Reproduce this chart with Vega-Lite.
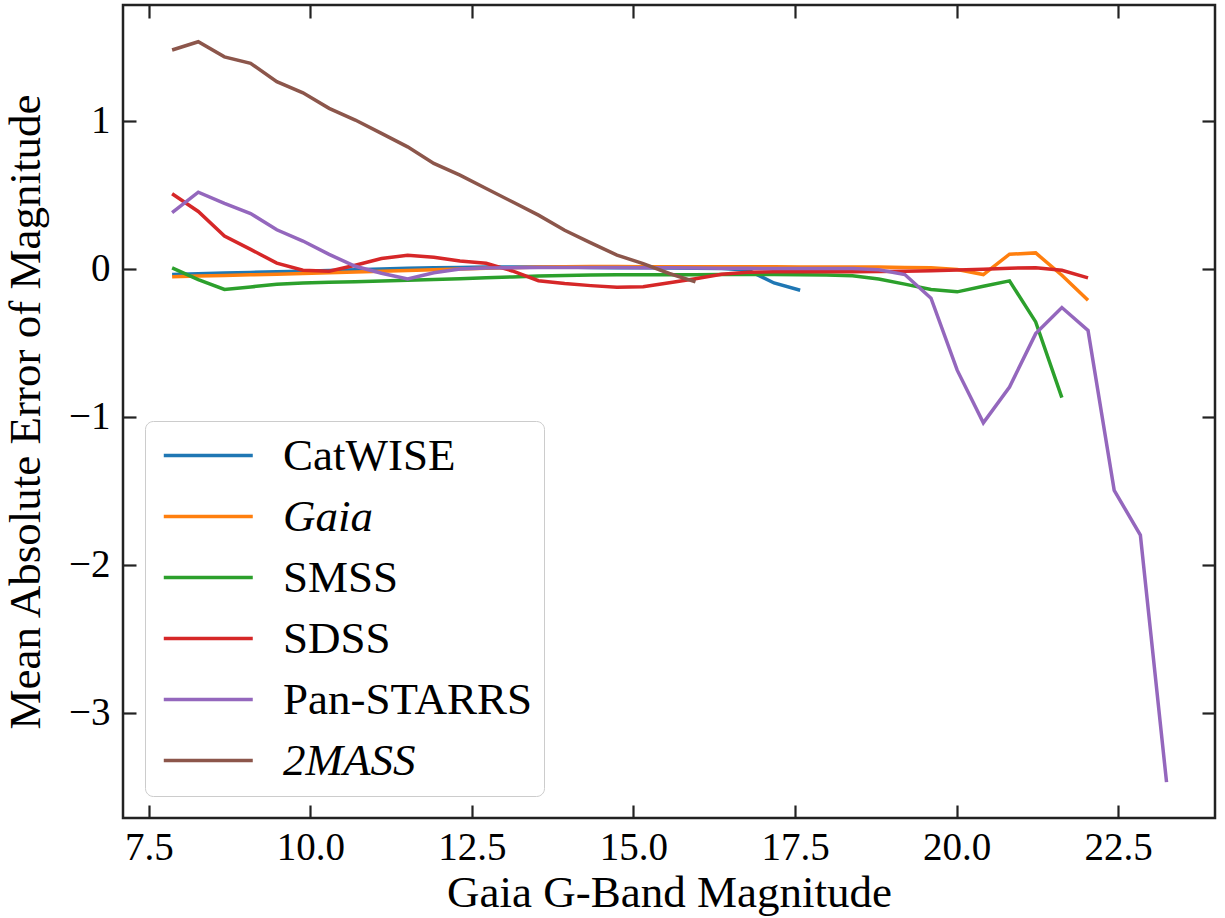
{
  "$schema": "https://vega.github.io/schema/vega-lite/v6.json",
  "width": 1092,
  "height": 813,
  "autosize": {"type": "none"},
  "padding": {"left": 123, "top": 5, "right": 10, "bottom": 100},
  "background": "white",
  "config": {
    "view": {"stroke": "#222222", "strokeWidth": 2.5},
    "font": "Liberation Serif",
    "axis": {
      "domain": false,
      "grid": false,
      "tickColor": "#222222",
      "tickWidth": 2.2,
      "tickSize": -13,
      "labelFont": "Liberation Serif",
      "labelFontSize": 39,
      "labelColor": "#000000",
      "titleFont": "Liberation Serif",
      "titleFontSize": 45,
      "titleFontWeight": "normal",
      "titleColor": "#000000"
    }
  },
  "data": {"values": [
    {"s": "CatWISE", "x": 7.86, "y": -0.04}, {"s": "CatWISE", "x": 8.265, "y": -0.035}, {"s": "CatWISE", "x": 8.67, "y": -0.03}, {"s": "CatWISE", "x": 9.075, "y": -0.026}, {"s": "CatWISE", "x": 9.48, "y": -0.022}, {"s": "CatWISE", "x": 9.885, "y": -0.018}, {"s": "CatWISE", "x": 10.29, "y": -0.013}, {"s": "CatWISE", "x": 10.695, "y": -0.008}, {"s": "CatWISE", "x": 11.1, "y": -0.003}, {"s": "CatWISE", "x": 11.505, "y": 0.002}, {"s": "CatWISE", "x": 11.91, "y": 0.006}, {"s": "CatWISE", "x": 12.315, "y": 0.008}, {"s": "CatWISE", "x": 12.72, "y": 0.01}, {"s": "CatWISE", "x": 13.125, "y": 0.01}, {"s": "CatWISE", "x": 13.53, "y": 0.01}, {"s": "CatWISE", "x": 13.935, "y": 0.01}, {"s": "CatWISE", "x": 14.34, "y": 0.008}, {"s": "CatWISE", "x": 14.745, "y": 0.006}, {"s": "CatWISE", "x": 15.15, "y": 0.005}, {"s": "CatWISE", "x": 15.555, "y": 0.004}, {"s": "CatWISE", "x": 15.96, "y": 0.003}, {"s": "CatWISE", "x": 16.365, "y": 0.0}, {"s": "CatWISE", "x": 16.77, "y": -0.01}, {"s": "CatWISE", "x": 17.175, "y": -0.097}, {"s": "CatWISE", "x": 17.58, "y": -0.146},
    {"s": "Gaia", "x": 7.86, "y": -0.055}, {"s": "Gaia", "x": 8.265, "y": -0.05}, {"s": "Gaia", "x": 8.67, "y": -0.046}, {"s": "Gaia", "x": 9.075, "y": -0.042}, {"s": "Gaia", "x": 9.48, "y": -0.038}, {"s": "Gaia", "x": 9.885, "y": -0.033}, {"s": "Gaia", "x": 10.29, "y": -0.028}, {"s": "Gaia", "x": 10.695, "y": -0.023}, {"s": "Gaia", "x": 11.1, "y": -0.018}, {"s": "Gaia", "x": 11.505, "y": -0.013}, {"s": "Gaia", "x": 11.91, "y": -0.008}, {"s": "Gaia", "x": 12.315, "y": -0.003}, {"s": "Gaia", "x": 12.72, "y": 0.002}, {"s": "Gaia", "x": 13.125, "y": 0.006}, {"s": "Gaia", "x": 13.53, "y": 0.01}, {"s": "Gaia", "x": 13.935, "y": 0.012}, {"s": "Gaia", "x": 14.34, "y": 0.014}, {"s": "Gaia", "x": 14.745, "y": 0.014}, {"s": "Gaia", "x": 15.15, "y": 0.013}, {"s": "Gaia", "x": 15.555, "y": 0.012}, {"s": "Gaia", "x": 15.96, "y": 0.012}, {"s": "Gaia", "x": 16.365, "y": 0.012}, {"s": "Gaia", "x": 16.77, "y": 0.012}, {"s": "Gaia", "x": 17.175, "y": 0.012}, {"s": "Gaia", "x": 17.58, "y": 0.011}, {"s": "Gaia", "x": 17.985, "y": 0.01}, {"s": "Gaia", "x": 18.39, "y": 0.01}, {"s": "Gaia", "x": 18.795, "y": 0.01}, {"s": "Gaia", "x": 19.2, "y": 0.008}, {"s": "Gaia", "x": 19.605, "y": 0.006}, {"s": "Gaia", "x": 20.01, "y": -0.006}, {"s": "Gaia", "x": 20.415, "y": -0.04}, {"s": "Gaia", "x": 20.82, "y": 0.097}, {"s": "Gaia", "x": 21.225, "y": 0.106}, {"s": "Gaia", "x": 21.63, "y": -0.045}, {"s": "Gaia", "x": 22.035, "y": -0.214},
    {"s": "SMSS", "x": 7.86, "y": 0.005}, {"s": "SMSS", "x": 8.265, "y": -0.074}, {"s": "SMSS", "x": 8.67, "y": -0.141}, {"s": "SMSS", "x": 9.075, "y": -0.124}, {"s": "SMSS", "x": 9.48, "y": -0.105}, {"s": "SMSS", "x": 9.885, "y": -0.097}, {"s": "SMSS", "x": 10.29, "y": -0.092}, {"s": "SMSS", "x": 10.695, "y": -0.088}, {"s": "SMSS", "x": 11.1, "y": -0.084}, {"s": "SMSS", "x": 11.505, "y": -0.079}, {"s": "SMSS", "x": 11.91, "y": -0.074}, {"s": "SMSS", "x": 12.315, "y": -0.068}, {"s": "SMSS", "x": 12.72, "y": -0.062}, {"s": "SMSS", "x": 13.125, "y": -0.056}, {"s": "SMSS", "x": 13.53, "y": -0.05}, {"s": "SMSS", "x": 13.935, "y": -0.046}, {"s": "SMSS", "x": 14.34, "y": -0.043}, {"s": "SMSS", "x": 14.745, "y": -0.042}, {"s": "SMSS", "x": 15.15, "y": -0.042}, {"s": "SMSS", "x": 15.555, "y": -0.042}, {"s": "SMSS", "x": 15.96, "y": -0.041}, {"s": "SMSS", "x": 16.365, "y": -0.04}, {"s": "SMSS", "x": 16.77, "y": -0.04}, {"s": "SMSS", "x": 17.175, "y": -0.04}, {"s": "SMSS", "x": 17.58, "y": -0.041}, {"s": "SMSS", "x": 17.985, "y": -0.043}, {"s": "SMSS", "x": 18.39, "y": -0.048}, {"s": "SMSS", "x": 18.795, "y": -0.07}, {"s": "SMSS", "x": 19.2, "y": -0.105}, {"s": "SMSS", "x": 19.605, "y": -0.141}, {"s": "SMSS", "x": 20.01, "y": -0.157}, {"s": "SMSS", "x": 20.415, "y": -0.119}, {"s": "SMSS", "x": 20.82, "y": -0.083}, {"s": "SMSS", "x": 21.225, "y": -0.36}, {"s": "SMSS", "x": 21.63, "y": -0.871},
    {"s": "SDSS", "x": 7.86, "y": 0.505}, {"s": "SDSS", "x": 8.265, "y": 0.386}, {"s": "SDSS", "x": 8.67, "y": 0.22}, {"s": "SDSS", "x": 9.075, "y": 0.13}, {"s": "SDSS", "x": 9.48, "y": 0.037}, {"s": "SDSS", "x": 9.885, "y": -0.011}, {"s": "SDSS", "x": 10.29, "y": -0.018}, {"s": "SDSS", "x": 10.695, "y": 0.023}, {"s": "SDSS", "x": 11.1, "y": 0.068}, {"s": "SDSS", "x": 11.505, "y": 0.09}, {"s": "SDSS", "x": 11.91, "y": 0.077}, {"s": "SDSS", "x": 12.315, "y": 0.051}, {"s": "SDSS", "x": 12.72, "y": 0.036}, {"s": "SDSS", "x": 13.125, "y": -0.016}, {"s": "SDSS", "x": 13.53, "y": -0.082}, {"s": "SDSS", "x": 13.935, "y": -0.101}, {"s": "SDSS", "x": 14.34, "y": -0.115}, {"s": "SDSS", "x": 14.745, "y": -0.126}, {"s": "SDSS", "x": 15.15, "y": -0.122}, {"s": "SDSS", "x": 15.555, "y": -0.095}, {"s": "SDSS", "x": 15.96, "y": -0.068}, {"s": "SDSS", "x": 16.365, "y": -0.038}, {"s": "SDSS", "x": 16.77, "y": -0.025}, {"s": "SDSS", "x": 17.175, "y": -0.022}, {"s": "SDSS", "x": 17.58, "y": -0.022}, {"s": "SDSS", "x": 17.985, "y": -0.022}, {"s": "SDSS", "x": 18.39, "y": -0.022}, {"s": "SDSS", "x": 18.795, "y": -0.02}, {"s": "SDSS", "x": 19.2, "y": -0.018}, {"s": "SDSS", "x": 19.605, "y": -0.015}, {"s": "SDSS", "x": 20.01, "y": -0.01}, {"s": "SDSS", "x": 20.415, "y": -0.005}, {"s": "SDSS", "x": 20.82, "y": 0.003}, {"s": "SDSS", "x": 21.225, "y": 0.005}, {"s": "SDSS", "x": 21.63, "y": -0.011}, {"s": "SDSS", "x": 22.035, "y": -0.063},
    {"s": "Pan-STARRS", "x": 7.86, "y": 0.378}, {"s": "Pan-STARRS", "x": 8.265, "y": 0.516}, {"s": "Pan-STARRS", "x": 8.67, "y": 0.44}, {"s": "Pan-STARRS", "x": 9.075, "y": 0.372}, {"s": "Pan-STARRS", "x": 9.48, "y": 0.262}, {"s": "Pan-STARRS", "x": 9.885, "y": 0.186}, {"s": "Pan-STARRS", "x": 10.29, "y": 0.096}, {"s": "Pan-STARRS", "x": 10.695, "y": 0.016}, {"s": "Pan-STARRS", "x": 11.1, "y": -0.031}, {"s": "Pan-STARRS", "x": 11.505, "y": -0.07}, {"s": "Pan-STARRS", "x": 11.91, "y": -0.028}, {"s": "Pan-STARRS", "x": 12.315, "y": -0.003}, {"s": "Pan-STARRS", "x": 12.72, "y": 0.004}, {"s": "Pan-STARRS", "x": 13.125, "y": 0.006}, {"s": "Pan-STARRS", "x": 13.53, "y": 0.008}, {"s": "Pan-STARRS", "x": 13.935, "y": 0.008}, {"s": "Pan-STARRS", "x": 14.34, "y": 0.008}, {"s": "Pan-STARRS", "x": 14.745, "y": 0.007}, {"s": "Pan-STARRS", "x": 15.15, "y": 0.006}, {"s": "Pan-STARRS", "x": 15.555, "y": 0.005}, {"s": "Pan-STARRS", "x": 15.96, "y": 0.004}, {"s": "Pan-STARRS", "x": 16.365, "y": 0.003}, {"s": "Pan-STARRS", "x": 16.77, "y": 0.002}, {"s": "Pan-STARRS", "x": 17.175, "y": 0.001}, {"s": "Pan-STARRS", "x": 17.58, "y": 0.0}, {"s": "Pan-STARRS", "x": 17.985, "y": 0.0}, {"s": "Pan-STARRS", "x": 18.39, "y": 0.0}, {"s": "Pan-STARRS", "x": 18.795, "y": -0.008}, {"s": "Pan-STARRS", "x": 19.2, "y": -0.04}, {"s": "Pan-STARRS", "x": 19.605, "y": -0.2}, {"s": "Pan-STARRS", "x": 20.01, "y": -0.686}, {"s": "Pan-STARRS", "x": 20.415, "y": -1.042}, {"s": "Pan-STARRS", "x": 20.82, "y": -0.8}, {"s": "Pan-STARRS", "x": 21.225, "y": -0.439}, {"s": "Pan-STARRS", "x": 21.63, "y": -0.263}, {"s": "Pan-STARRS", "x": 22.035, "y": -0.418}, {"s": "Pan-STARRS", "x": 22.44, "y": -1.497}, {"s": "Pan-STARRS", "x": 22.845, "y": -1.8}, {"s": "Pan-STARRS", "x": 23.25, "y": -3.468},
    {"s": "2MASS", "x": 7.86, "y": 1.476}, {"s": "2MASS", "x": 8.265, "y": 1.532}, {"s": "2MASS", "x": 8.67, "y": 1.43}, {"s": "2MASS", "x": 9.075, "y": 1.386}, {"s": "2MASS", "x": 9.48, "y": 1.262}, {"s": "2MASS", "x": 9.885, "y": 1.187}, {"s": "2MASS", "x": 10.29, "y": 1.082}, {"s": "2MASS", "x": 10.695, "y": 1.003}, {"s": "2MASS", "x": 11.1, "y": 0.913}, {"s": "2MASS", "x": 11.505, "y": 0.822}, {"s": "2MASS", "x": 11.91, "y": 0.71}, {"s": "2MASS", "x": 12.315, "y": 0.631}, {"s": "2MASS", "x": 12.72, "y": 0.541}, {"s": "2MASS", "x": 13.125, "y": 0.451}, {"s": "2MASS", "x": 13.53, "y": 0.361}, {"s": "2MASS", "x": 13.935, "y": 0.259}, {"s": "2MASS", "x": 14.34, "y": 0.174}, {"s": "2MASS", "x": 14.745, "y": 0.091}, {"s": "2MASS", "x": 15.15, "y": 0.034}, {"s": "2MASS", "x": 15.555, "y": -0.033}, {"s": "2MASS", "x": 15.96, "y": -0.09}
  ]},
  "layer": [
    {
      "mark": {"type": "line", "strokeWidth": 3.5, "clip": true},
      "encoding": {
        "x": {"field": "x", "type": "quantitative",
              "scale": {"domain": [7.1, 24.0], "nice": false, "zero": false},
              "axis": {"orient": "bottom", "values": [7.5, 10, 12.5, 15, 17.5, 20, 22.5], "format": ".1f",
                       "labelPadding": 23, "title": "Gaia G-Band Magnitude", "titlePadding": 3}},
        "y": {"field": "y", "type": "quantitative",
              "scale": {"domain": [-3.71, 1.78], "nice": false, "zero": false},
              "axis": {"orient": "left", "values": [-3, -2, -1, 0, 1], "format": "d",
                       "labelPadding": 26, "title": "Mean Absolute Error of Magnitude", "titlePadding": 20}},
        "color": {"field": "s", "type": "nominal",
                  "scale": {"domain": ["CatWISE", "Gaia", "SMSS", "SDSS", "Pan-STARRS", "2MASS"],
                            "range": ["#1f77b4", "#ff7f0e", "#2ca02c", "#d62728", "#9467bd", "#8c564b"]},
                  "legend": {"orient": "bottom-left", "offset": 22, "title": null,
                             "fillColor": "rgba(255,255,255,0.85)", "strokeColor": "#cccccc", "cornerRadius": 8,
                             "padding": 12, "symbolType": "M-1.06,0H4.94", "symbolSize": 880, "symbolStrokeWidth": 3.5,
                             "labelFont": "Liberation Serif", "labelFontSize": 45, "labelColor": "#000000",
                             "labelOffset": 81, "rowPadding": 15, "labelLimit": 400,
                             "encode": {"labels": {"update": {"fontStyle": [{"test": "datum.label === 'Gaia' || datum.label === '2MASS'", "value": "italic"}, {"value": "normal"}]}}}}}
      }
    },
    {
      "mark": {"type": "point", "opacity": 0},
      "encoding": {
        "x": {"field": "x", "type": "quantitative",
              "axis": {"orient": "top", "values": [7.5, 10, 12.5, 15, 17.5, 20, 22.5], "labels": false, "title": null}},
        "y": {"field": "y", "type": "quantitative",
              "axis": {"orient": "right", "values": [-3, -2, -1, 0, 1], "labels": false, "title": null}}
      }
    }
  ],
  "resolve": {"axis": {"x": "independent", "y": "independent"}}
}
